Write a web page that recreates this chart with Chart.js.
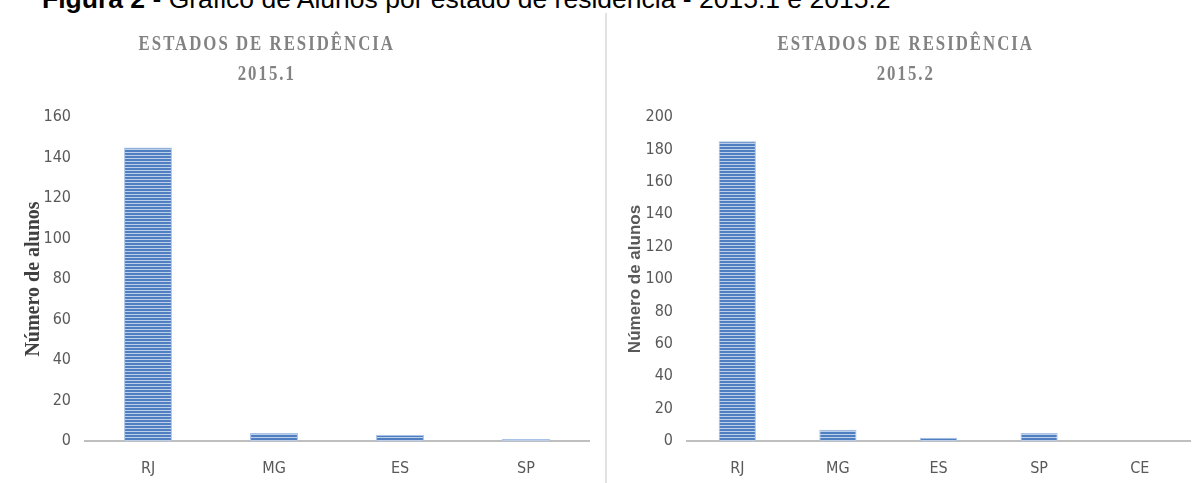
<!DOCTYPE html>
<html>
<head>
<meta charset="utf-8">
<script src="https://cdn.jsdelivr.net/npm/chart.js@4/dist/chart.umd.min.js"></script>
<style>
  html, body { margin: 0; padding: 0; background: #fff; }
  body { width: 1197px; height: 483px; position: relative; overflow: hidden; }
  #heading { position: absolute; left: 42px; top: -16px; font: 26.5px "Liberation Sans", Arial, sans-serif; line-height: 30px; color: #000; white-space: nowrap; }
  #sep { position: absolute; left: 605px; top: 13px; width: 2px; height: 470px; background: #e2e2e2; }
  .box { position: absolute; top: 0; height: 483px; }
  #box1 { left: 0; width: 604px; }
  #box2 { left: 608px; width: 589px; }
</style>
</head>
<body>
<div id="heading"><b>Figura 2</b> - Gráfico de Alunos por estado de residência - 2015.1 e 2015.2</div>
<div id="sep"></div>
<div class="box" id="box1"><canvas id="chart1"></canvas></div>
<div class="box" id="box2"><canvas id="chart2"></canvas></div>
<script>
// Data
const states1 = ['RJ', 'MG', 'ES', 'SP'];
const alunos1 = [145, 4, 3, 1];
const states2 = ['RJ', 'MG', 'ES', 'SP', 'CE'];
const alunos2 = [185, 7, 2, 5, 0];
const title1 = ['ESTADOS DE RESIDÊNCIA', '2015.1'];
const title2 = ['ESTADOS DE RESIDÊNCIA', '2015.2'];
const yLabel = 'Número de alunos';

// striped fill like the original bars
function stripes() {
    const c = document.createElement('canvas');
    c.width = 4; c.height = 3;
    const g = c.getContext('2d');
    g.fillStyle = '#4f7fc0';
    g.fillRect(0, 0, 4, 2);
    g.fillStyle = '#bccfea';
    g.fillRect(0, 2, 4, 1);
    return g.createPattern(c, 'repeat');
}

// Two-line title (tall, narrow serif) drawn at a fixed spot
const topTitle = {
    id: 'topTitle',
    afterDraw(chart, args, opts) {
        const ctx = chart.ctx;
        const sx = 0.8;
        ctx.save();
        ctx.scale(sx, 1);
        ctx.font = 'bold 21px "Liberation Serif", serif';
        ctx.letterSpacing = '2.5px';
        ctx.fillStyle = '#828282';
        ctx.textAlign = 'center';
        ctx.textBaseline = 'middle';
        opts.lines.forEach((t, i) => ctx.fillText(t, opts.x / sx + 1, opts.y + i * 30));
        ctx.restore();
    }
};

const tickFont = { family: 'DejaVu Sans Condensed', size: 16 };

function makeChart(id, labels, values, max, barPct, titleLines, titleX, yFont, yColor, yPad, yLeft, padRight) {
    const ctx = document.getElementById(id).getContext('2d');
    return new Chart(ctx, {
        type: 'bar',
        data: {
            labels: labels,
            datasets: [{
                data: values,
                backgroundColor: stripes(),
                borderColor: '#a9c2e8',
                borderWidth: 1,
                categoryPercentage: 1,
                barPercentage: barPct
            }]
        },
        options: {
            responsive: true,
            maintainAspectRatio: false,
            animation: false,
            layout: { padding: { top: 117, right: padRight, left: 0, bottom: 0 } },
            scales: {
                x: {
                    grid: { display: false, drawTicks: false },
                    border: { display: true, color: '#bfbfbf', width: 2 },
                    ticks: { color: '#595959', font: tickFont, padding: 18 },
                    afterFit: s => { s.height = 42; }
                },
                y: {
                    min: 0,
                    max: max,
                    ticks: { stepSize: 20, color: '#595959', font: tickFont, padding: 14 },
                    grid: { display: false, drawTicks: false },
                    border: { display: false },
                    title: { display: true, text: yLabel, color: yColor, font: yFont, padding: { top: yPad, bottom: 0 } },
                    afterFit: s => { s.width = yLeft; }
                }
            },
            plugins: {
                legend: { display: false },
                tooltip: { enabled: false },
                topTitle: { lines: titleLines, x: titleX, y: 45 }
            }
        },
        plugins: [topTitle]
    });
}

makeChart('chart1', states1, alunos1, 160, 0.38, title1, 266,
    { family: 'Liberation Serif', size: 20, weight: 'bold' }, '#404040', 22, 85, 15);
makeChart('chart2', states2, alunos2, 200, 0.37, title2, 297,
    { family: 'Liberation Sans', size: 17, weight: 'bold' }, '#595959', 17, 79, 7);
</script>
</body>
</html>
